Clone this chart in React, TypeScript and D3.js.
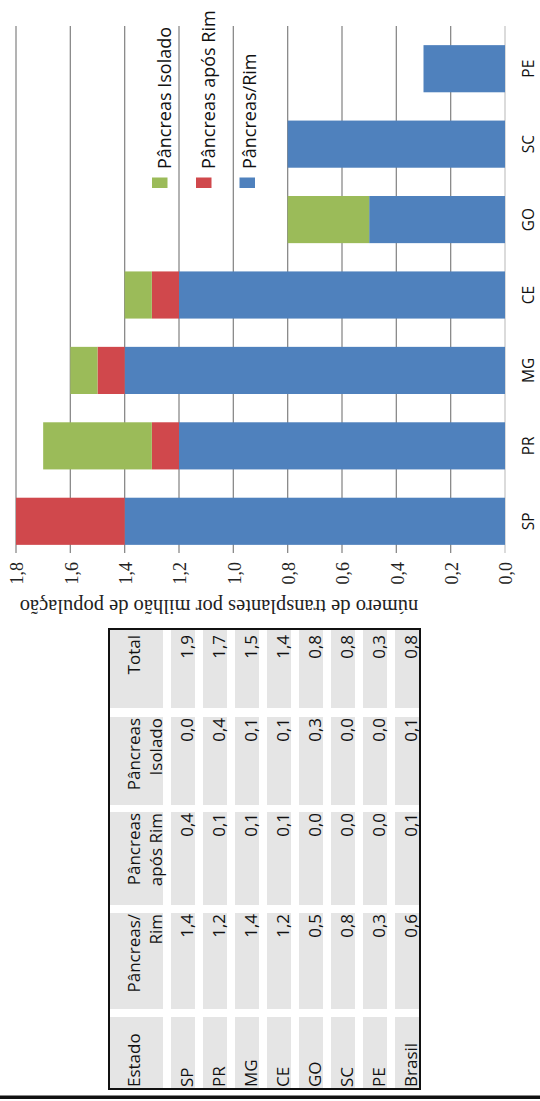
import React from "react";
import * as d3 from "d3";

// ---- data ----
const categories = ["SP", "PR", "MG", "CE", "GO", "SC", "PE"];
const pancreasRim = [1.4, 1.2, 1.4, 1.2, 0.5, 0.8, 0.3];
const pancreasAposRim = [0.4, 0.1, 0.1, 0.1, 0.0, 0.0, 0.0];
const pancreasIsolado = [0.0, 0.4, 0.1, 0.1, 0.3, 0.0, 0.0];
const axisTicks = [0, 0.2, 0.4, 0.6, 0.8, 1.0, 1.2, 1.4, 1.6, 1.8];
const seriesNames = ["Pâncreas/Rim", "Pâncreas após Rim", "Pâncreas Isolado"];
const axisTitle = "número de transplantes por milhão de população";

const tableStates = ["SP", "PR", "MG", "CE", "GO", "SC", "PE", "Brasil"];
const tableRim = [1.4, 1.2, 1.4, 1.2, 0.5, 0.8, 0.3, 0.6];
const tableApos = [0.4, 0.1, 0.1, 0.1, 0.0, 0.0, 0.0, 0.1];
const tableIsolado = [0.0, 0.4, 0.1, 0.1, 0.3, 0.0, 0.0, 0.1];
const tableTotal = [1.9, 1.7, 1.5, 1.4, 0.8, 0.8, 0.3, 0.8];

const COLORS: Record<string, string> = {
  rim: "#4F81BD",
  apos: "#D0484C",
  iso: "#9BBB59",
};

const SANS = "'Open Sans', sans-serif";
const SERIF = "'Liberation Serif', serif";

const fmt = (v: number) => d3.format(".1f")(v).replace(".", ",");

export default function App() {
  const W = 540;
  const H = 1101;

  const rows = categories.map((c, i) => ({
    cat: c,
    rim: pancreasRim[i],
    apos: pancreasAposRim[i],
    iso: pancreasIsolado[i],
  }));
  const keys = ["rim", "apos", "iso"];
  const stacked = d3.stack<any>().keys(keys)(rows);

  const x = d3.scaleLinear().domain([0, 1.8]).range([505, 16]);
  const y = d3
    .scaleBand<string>()
    .domain(categories.slice().reverse())
    .range([31, 559])
    .paddingInner(0.375)
    .paddingOuter(0.1875);
  const bw = y.bandwidth();

  // legend (screen order left->right: Isolado, após Rim, Rim)
  const legendItems = [
    { key: "iso", name: seriesNames[2], mx: 152, tx: 171 },
    { key: "apos", name: seriesNames[1], mx: 196, tx: 214.5 },
    { key: "rim", name: seriesNames[0], mx: 239.5, tx: 256 },
  ];

  // table geometry (screen coordinates, rotated table)
  const tLeft = 109, tTop = 629, tRight = 420, tBottom = 1089;
  const headerX0 = 110, headerX1 = 163;
  const rowX = (i: number) => 171 + i * 32;
  const rowW = 24;
  const cols = [
    { name: ["Total"], y0: 629, y1: 708, vals: tableTotal, end: 635 },
    { name: ["Pâncreas", "Isolado"], y0: 717, y1: 805, vals: tableIsolado, end: 718 },
    { name: ["Pâncreas", "após Rim"], y0: 812, y1: 905, vals: tableApos, end: 813 },
    { name: ["Pâncreas/", "Rim"], y0: 913, y1: 1009, vals: tableRim, end: 914 },
  ];
  const estado = { y0: 1017, y1: 1089, start: 1087 };

  return (
    <svg
      width={W}
      height={H}
      style={{ position: "absolute", left: 0, top: 0, background: "#fff" }}
    >
      <rect x={0} y={0} width={W} height={H} fill="#fff" />
      {/* gridlines */}
      {axisTicks.map((t) => (
        <line
          key={"g" + t}
          x1={x(t)}
          x2={x(t)}
          y1={26}
          y2={553}
          stroke={t === 0 ? "#c8c8c8" : "#8a8a8a"}
          strokeWidth={1.3}
        />
      ))}
      {/* bars */}
      {stacked.map((s) => (
        <g key={s.key} fill={COLORS[s.key]}>
          {s.map((d: any, i: number) => {
            const w = x(d[0]) - x(d[1]);
            if (w <= 0.01) return null;
            return (
              <rect
                key={i}
                x={x(d[1])}
                y={y(d.data.cat)!}
                width={w}
                height={bw}
              />
            );
          })}
        </g>
      ))}
      {/* tick labels */}
      {axisTicks.map((t) => (
        <text
          key={"t" + t}
          transform={`translate(${x(t) + 1},562) rotate(-90)`}
          textAnchor="end"
          dy="0.35em"
          fontFamily={SERIF}
          fontSize={18}
          fill="#222"
        >
          {fmt(t)}
        </text>
      ))}
      {/* axis title (upside down) */}
      <text
        transform={`translate(219,607) rotate(180)`}
        textAnchor="middle"
        dy="0.32em"
        fontFamily={SERIF}
        fontSize={20.5}
        fill="#222"
      >
        {axisTitle}
      </text>
      {/* category labels */}
      {categories.map((c) => (
        <text
          key={"c" + c}
          transform={`translate(529,${y(c)! + bw / 2}) rotate(-90)`}
          textAnchor="middle"
          dy="0.35em"
          fontFamily={SANS}
          fontSize={15.5}
          fill="#111"
        >
          {c}
        </text>
      ))}
      {/* legend */}
      {legendItems.map((l) => (
        <g key={"l" + l.key}>
          <rect x={l.mx} y={177.5} width={15.5} height={10.5} fill={COLORS[l.key]} />
          <text
            transform={`translate(${l.tx},169) rotate(-90)`}
            textAnchor="start"
            fontFamily={SANS}
            fontSize={18}
            fill="#111"
          >
            {l.name}
          </text>
        </g>
      ))}

      {/* table */}
      <defs>
        <clipPath id="tclip">
          <rect x={tLeft} y={tTop} width={tRight - tLeft} height={tBottom - tTop} />
        </clipPath>
      </defs>
      <g clipPath="url(#tclip)">
        {/* gray cells */}
        {[...cols.map((c) => [c.y0, c.y1]), [estado.y0, estado.y1]].map(([a, b], ci) => (
          <g key={"cc" + ci} fill="#e5e5e5">
            <rect x={headerX0} y={a} width={headerX1 - headerX0} height={b - a} />
            {tableStates.map((s, i) => (
              <rect key={s} x={rowX(i)} y={a} width={rowW} height={b - a} />
            ))}
          </g>
        ))}
        {/* header texts */}
        {cols.map((c, ci) => (
          <text
            key={"h" + ci}
            transform={`translate(139.5,${c.end}) rotate(-90)`}
            textAnchor="end"
            fontFamily={SANS}
            fontSize={17}
            fill="#111"
          >
            {c.name.map((n, k) => (
              <tspan key={k} x={0} dy={k === 0 ? 0 : 22}>
                {n}
              </tspan>
            ))}
          </text>
        ))}
        <text
          transform={`translate(139.5,${estado.start}) rotate(-90)`}
          textAnchor="start"
          fontFamily={SANS}
          fontSize={17}
          fill="#111"
        >
          Estado
        </text>
        {/* row labels */}
        {tableStates.map((s, i) => (
          <text
            key={"r" + s}
            transform={`translate(${rowX(i) + 22},${estado.start}) rotate(-90)`}
            textAnchor="start"
            fontFamily={SANS}
            fontSize={17}
            fill="#111"
          >
            {s}
          </text>
        ))}
        {/* values */}
        {cols.map((c, ci) =>
          c.vals.map((v, i) => (
            <text
              key={"v" + ci + "-" + i}
              transform={`translate(${rowX(i) + 22},${c.end}) rotate(-90)`}
              textAnchor="end"
              fontFamily={SANS}
              fontSize={17}
              fill="#111"
            >
              {fmt(v)}
            </text>
          ))
        )}
      </g>
      <rect
        x={tLeft}
        y={tTop}
        width={tRight - tLeft}
        height={tBottom - tTop}
        fill="none"
        stroke="#111"
        strokeWidth={2}
      />
      {/* bottom rule */}
      <rect x={0} y={1095.5} width={W} height={3.5} fill="#111" />
    </svg>
  );
}
